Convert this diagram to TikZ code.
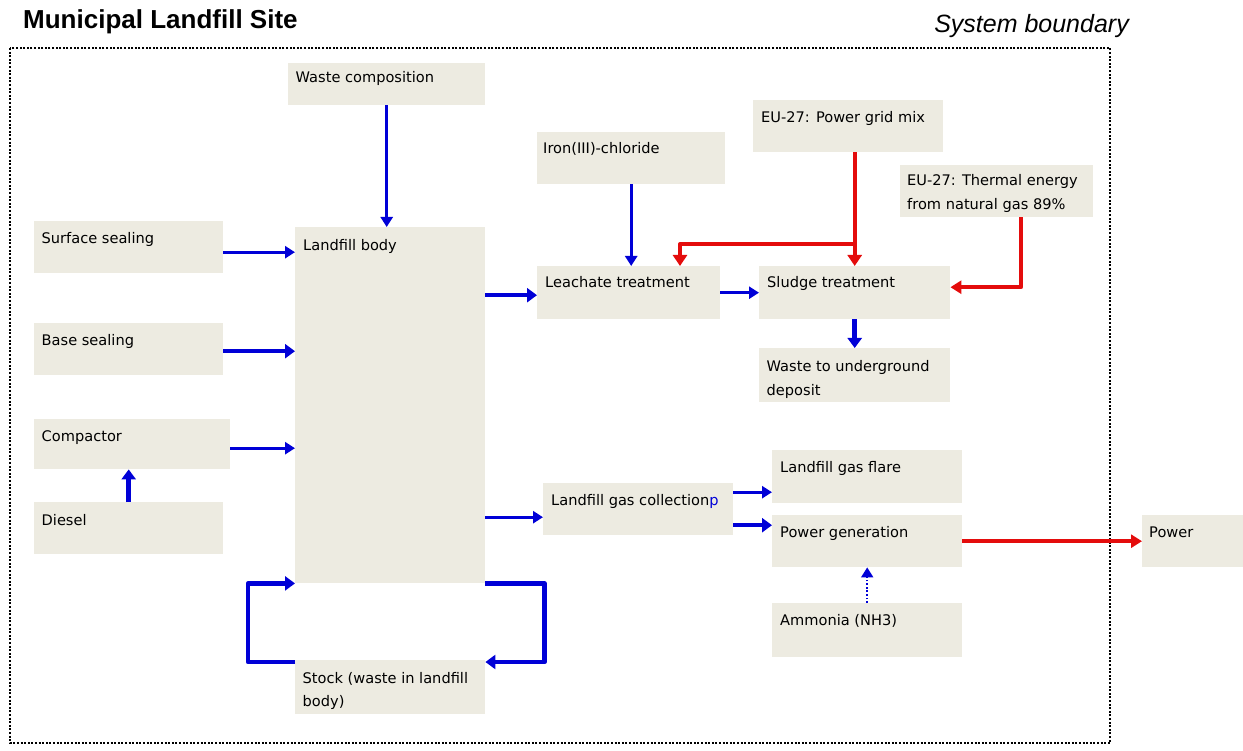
\documentclass[tikz,border=0pt]{standalone}
\usepackage{fontspec}
\setmainfont{DejaVu Sans}
\newfontfamily\headfont{Liberation Sans}
\usetikzlibrary{arrows.meta,calc}
\definecolor{boxc}{RGB}{237,235,225}
\definecolor{ablue}{RGB}{0,0,215}
\definecolor{ared}{RGB}{228,12,12}
\begin{document}
\begin{tikzpicture}[x=1pt,y=-1pt,
  box/.style={fill=boxc,draw=none,inner sep=0pt,anchor=north west},
  lbl/.style={anchor=base west,inner sep=0pt,font=\fontsize{14.6}{23.5}\selectfont,align=left},
  thinA/.style={draw=ablue,line width=3pt,line join=round,-{Triangle[length=10pt,width=12pt]}},
  thickA/.style={draw=ablue,line width=4.5pt,line join=round,-{Triangle[length=10pt,width=14pt]}},
  redA/.style={draw=ared,line width=4pt,line join=round,-{Triangle[length=11pt,width=14pt]}},
  redB/.style={draw=ared,line width=3.5pt,line join=round,-{Triangle[length=11pt,width=13pt]}},
  dotA/.style={draw=ablue,line width=1.8pt,dash pattern=on 1.8pt off 1.8pt,-{Triangle[length=10pt,width=12pt]}},
  boundary/.style={draw=black,line width=2.2pt,dash pattern=on 2pt off 1.6pt}
]
\useasboundingbox (0,0) rectangle (1243,751);

% titles
\node[anchor=base west,inner sep=0pt,font=\headfont\bfseries\fontsize{26}{30}\selectfont] (title) at (23,29) {Municipal Landfill Site};
\node[anchor=base east,inner sep=0pt,font=\headfont\itshape\fontsize{25}{30}\selectfont] (sysb) at (1129,33) {System boundary};

% system boundary
\draw[boundary] (10,48) rectangle (1110,743);

% boxes
\node[box,minimum width=197pt,minimum height=42pt] (wcomp) at (288,63) {};
\node[box,minimum width=190pt,minimum height=356pt] (body) at (295,227) {};
\node[box,minimum width=189pt,minimum height=52pt] (surf) at (34,221) {};
\node[box,minimum width=189pt,minimum height=52pt] (base) at (34,323) {};
\node[box,minimum width=196pt,minimum height=50pt] (comp) at (34,419) {};
\node[box,minimum width=189pt,minimum height=52pt] (diesel) at (34,502) {};
\node[box,minimum width=190pt,minimum height=54pt] (stock) at (295,660) {};
\node[box,minimum width=188pt,minimum height=52pt] (iron) at (537,132) {};
\node[box,minimum width=190pt,minimum height=52pt] (pgrid) at (753,100) {};
\node[box,minimum width=193pt,minimum height=52pt] (therm) at (900,165) {};
\node[box,minimum width=183pt,minimum height=53pt] (leach) at (537,266) {};
\node[box,minimum width=191pt,minimum height=53pt] (sludge) at (759,266) {};
\node[box,minimum width=191pt,minimum height=54pt] (waste) at (759,348) {};
\node[box,minimum width=190pt,minimum height=52pt] (gas) at (543,483) {};
\node[box,minimum width=190pt,minimum height=53pt] (flare) at (772,450) {};
\node[box,minimum width=190pt,minimum height=52pt] (pgen) at (772,515) {};
\node[box,minimum width=190pt,minimum height=54pt] (ammo) at (772,603) {};
\node[box,minimum width=101pt,minimum height=52pt] (power) at (1142,515) {};

% labels (base anchor = baseline of the last line)
\node[lbl] (wcomp-t) at ($(wcomp.north west)+(7.5,20)$) {Waste composition};
\node[lbl] (body-t) at ($(body.north west)+(8,24)$) {Landfill body};
\node[lbl] (surf-t) at ($(surf.north west)+(7.5,23)$) {Surface sealing};
\node[lbl] (base-t) at ($(base.north west)+(7.5,23)$) {Base sealing};
\node[lbl] (comp-t) at ($(comp.north west)+(7.5,23)$) {Compactor};
\node[lbl] (diesel-t) at ($(diesel.north west)+(7.5,23)$) {Diesel};
\node[lbl] (stock-t) at ($(stock.north west)+(7.5,46.5)$) {Stock (waste in landfill\\body)};
\node[lbl] (iron-t) at ($(iron.north west)+(6,22)$) {Iron(III)-chloride};
\node[lbl] (pgrid-t) at ($(pgrid.north west)+(8,23)$) {EU-27: Power grid mix};
\node[lbl] (therm-t) at ($(therm.north west)+(7,44.5)$) {EU-27: Thermal energy\\from natural gas 89\%};
\node[lbl] (leach-t) at ($(leach.north west)+(8,22)$) {Leachate treatment};
\node[lbl] (sludge-t) at ($(sludge.north west)+(8,22)$) {Sludge treatment};
\node[lbl] (waste-t) at ($(waste.north west)+(7.5,47.5)$) {Waste to underground\\deposit};
\node[lbl] (gas-t) at ($(gas.north west)+(8,22)$) {Landfill gas collection{\color{ablue}p}};
\node[lbl] (flare-t) at ($(flare.north west)+(8,22)$) {Landfill gas flare};
\node[lbl] (pgen-t) at ($(pgen.north west)+(8,22)$) {Power generation};
\node[lbl] (ammo-t) at ($(ammo.north west)+(8,22)$) {Ammonia (NH3)};
\node[lbl] (power-t) at ($(power.north west)+(7,22)$) {Power};

% helper coordinates
\path (surf.east) ++(0,5) coordinate (c-surf);
\path (base.east) ++(0,2) coordinate (c-base);
\path (comp.east) ++(0,4) coordinate (c-comp);
\path (leach.west) ++(0,2.5) coordinate (c-leach);
\path (gas.west) ++(0,8) coordinate (c-gas);
\path (gas.east) ++(0,-17) coordinate (c-flare);
\path (gas.east) ++(0,16) coordinate (c-pgen);
\path (sludge.north) ++(0,-22) coordinate (c-branch);
\path (leach.north west) ++(143,0) coordinate (c-leachtop);
\path (therm.south) ++(24.5,0) coordinate (c-therm);
\path (sludge.east) ++(0,-5.5) coordinate (c-sludge);
\path (stock.north west) ++(0,2) coordinate (c-stockL);
\path (stock.north east) ++(0,2) coordinate (c-stockR);

% connectors
\draw[thinA] (wcomp.south) -- (wcomp.south |- body.north);
\draw[thinA] (c-surf) -- (c-surf -| body.west);
\draw[thickA] (c-base) -- (c-base -| body.west);
\draw[thinA] (c-comp) -- (c-comp -| body.west);
\draw[thickA] (diesel.north) -- (diesel.north |- comp.south);
\draw[thickA] (c-leach -| body.east) -- (c-leach);
\draw[thinA] (c-gas -| body.east) -- (c-gas);
\draw[thickA] (c-stockL) -- ++(-47,0) |- (body.south west);
\draw[thickA] (body.south east) -- ++(59,0) |- (c-stockR);
\draw[thinA] (iron.south) -- (iron.south |- leach.north);
\draw[thinA] (leach.east) -- (sludge.west);
\draw[thickA] (sludge.south) -- (sludge.south |- waste.north);
\draw[redA] (sludge.north |- pgrid.south) -- (sludge.north);
\draw[redA] (c-branch) -| (c-leachtop);
\draw[redB] (c-therm) |- (c-sludge);
\draw[thinA] (c-flare) -- (c-flare -| flare.west);
\draw[thickA] (c-pgen) -- (c-pgen -| pgen.west);
\draw[redB] (pgen.east) -- (power.west);
\draw[dotA] (ammo.north) -- (pgen.south);
\end{tikzpicture}
\end{document}
